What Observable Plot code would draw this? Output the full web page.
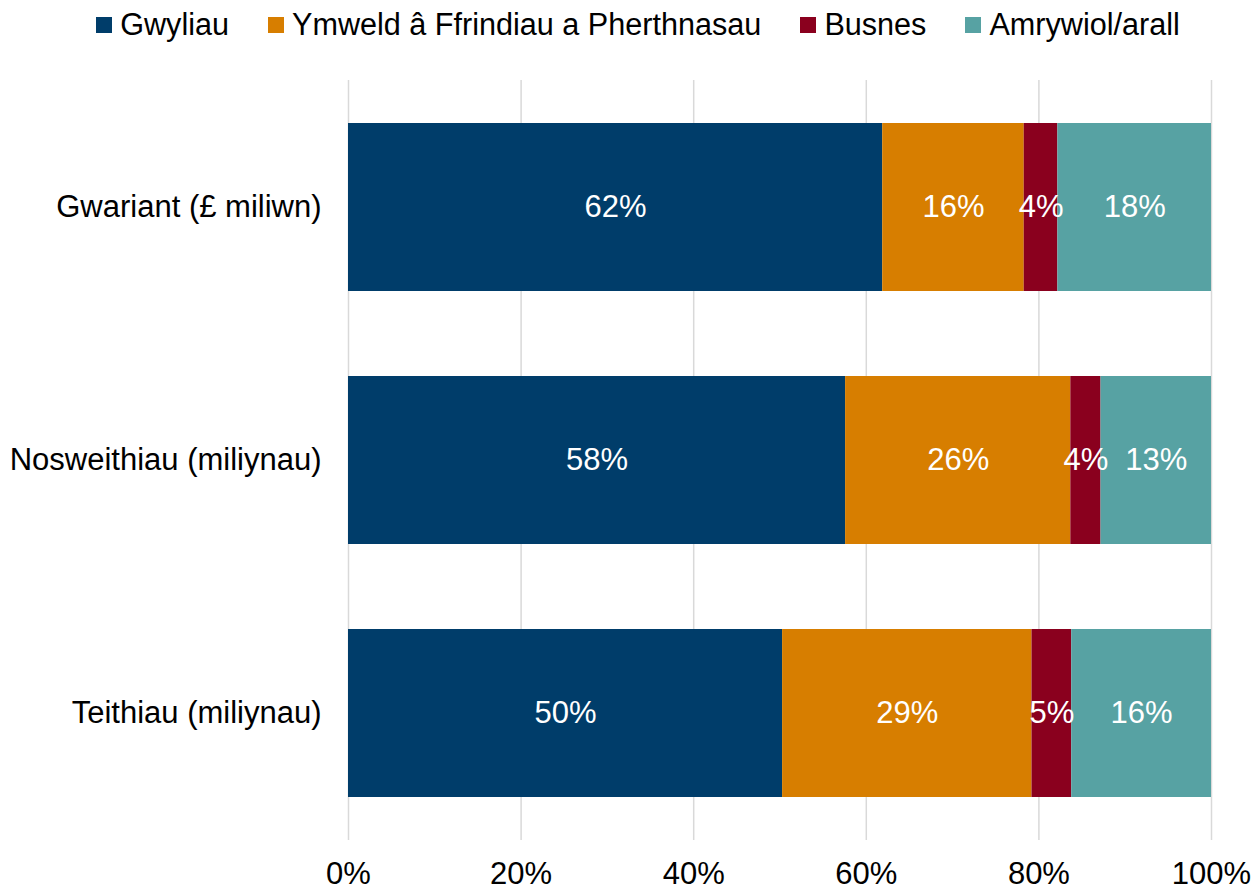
<!DOCTYPE html>
<html>
<head>
<meta charset="utf-8">
<script src="https://cdn.jsdelivr.net/npm/d3@7"></script>
<script src="https://cdn.jsdelivr.net/npm/@observablehq/plot@0.6"></script>
<style>
  body { margin: 0; background: #fff; font-family: "Liberation Sans", Arial, sans-serif; }
  #wrap { width: 1260px; }
  #legend { height: 50px; display: flex; justify-content: center; align-items: flex-start; padding-left: 16px; box-sizing: border-box; }
  .item { display: flex; align-items: center; margin-right: 39px; height: 50px; }
  .item:last-child { margin-right: 0; }
  .sw { width: 16px; height: 16px; margin-right: 8px; margin-top: 0px; }
  .lab { font-size: 30.6px; color: #000; line-height: 50px; margin-top: -3px; }
  svg { display: block; }
</style>
</head>
<body>
<div id="wrap">
  <div id="legend"></div>
  <div id="chart"></div>
</div>
<script>
const categories = ["Gwariant (£ miliwn)", "Nosweithiau (miliynau)", "Teithiau (miliynau)"];
const series = ["Gwyliau", "Ymweld â Ffrindiau a Pherthnasau", "Busnes", "Amrywiol/arall"];
const colors = ["#003d6a", "#d77e00", "#8a001e", "#57a2a3"];
// percentage shares per category, in series order
const gwariant = [61.9, 16.4, 3.9, 17.8];
const nosweithiau = [57.6, 26.1, 3.5, 12.8];
const teithiau = [50.3, 28.9, 4.6, 16.2];
const xTicks = [0, 20, 40, 60, 80, 100];

const rows = [gwariant, nosweithiau, teithiau];
const data = [];
categories.forEach((c, i) => {
  series.forEach((s, j) => data.push({category: c, series: s, value: rows[i][j]}));
});

// legend
const legend = document.getElementById("legend");
series.forEach((s, j) => {
  const it = document.createElement("div");
  it.className = "item";
  const sw = document.createElement("div");
  sw.className = "sw";
  sw.style.background = colors[j];
  const lb = document.createElement("span");
  lb.className = "lab";
  lb.textContent = s;
  it.appendChild(sw);
  it.appendChild(lb);
  legend.appendChild(it);
});

const chart = Plot.plot({
  width: 1260,
  height: 841,
  marginTop: 30,
  marginBottom: 51,
  marginLeft: 348,
  marginRight: 49,
  style: {fontFamily: "Liberation Sans, Arial, sans-serif", fontSize: "31px", color: "#000", background: "#fff"},
  x: {domain: [0, 100], label: null},
  y: {domain: categories, label: null, paddingInner: 0.337, paddingOuter: 0.1685},
  color: {domain: series, range: colors},
  marks: [
    Plot.gridX(xTicks, {stroke: "#d9d9d9", strokeOpacity: 1, strokeWidth: 1.5}),
    Plot.barX(data, Plot.stackX({x: "value", y: "category", fill: "series"})),
    Plot.text(data, Plot.stackX({x: "value", y: "category", z: "series", text: d => Math.round(d.value) + "%", fill: "white", fontSize: 31})),
    Plot.axisX({ticks: xTicks, tickSize: 0, tickPadding: 21, tickFormat: d => d + "%", fontSize: 31, label: null}),
    Plot.axisY({tickSize: 0, tickPadding: 27, fontSize: 31, label: null})
  ]
});
document.getElementById("chart").appendChild(chart);
</script>
</body>
</html>
